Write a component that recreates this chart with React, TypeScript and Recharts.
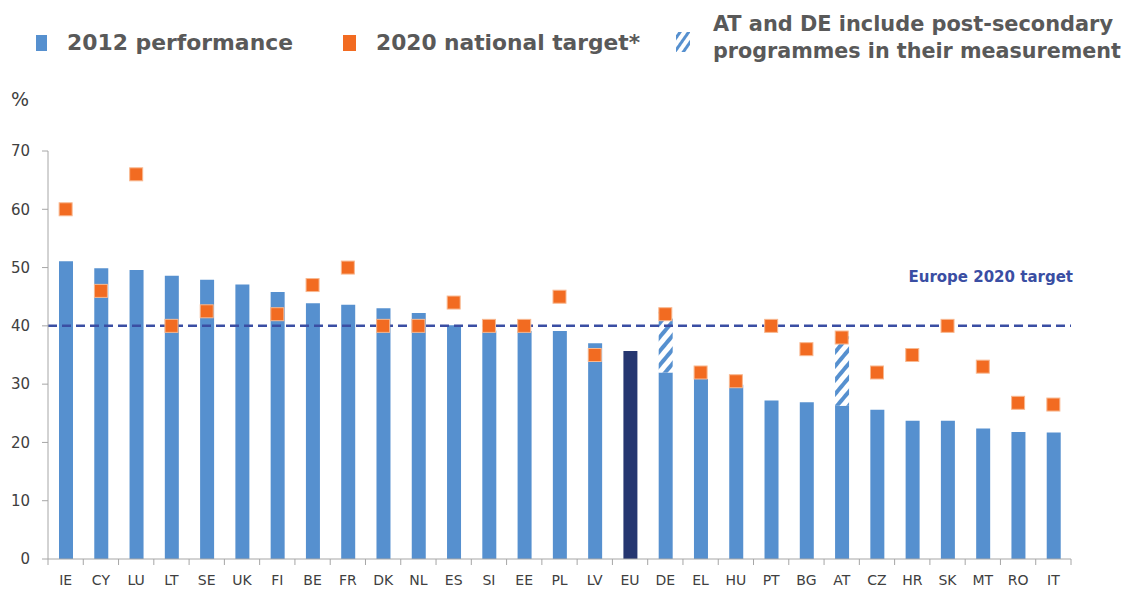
import { ComposedChart, Bar, Scatter, XAxis, YAxis, ReferenceLine, Cell } from 'recharts';

const countries = ['IE', 'CY', 'LU', 'LT', 'SE', 'UK', 'FI', 'BE', 'FR', 'DK', 'NL', 'ES', 'SI', 'EE', 'PL', 'LV', 'EU', 'DE', 'EL', 'HU', 'PT', 'BG', 'AT', 'CZ', 'HR', 'SK', 'MT', 'RO', 'IT'];
const performance2012 = [51.1, 49.9, 49.6, 48.6, 47.9, 47.1, 45.8, 43.9, 43.6, 43.0, 42.2, 40.1, 39.2, 39.1, 39.1, 37.0, 35.7, 32.0, 30.9, 29.9, 27.2, 26.9, 26.3, 25.6, 23.7, 23.7, 22.4, 21.8, 21.7];
// extra share from post-secondary programmes (DE, AT only)
const postSecondary = [0, 0, 0, 0, 0, 0, 0, 0, 0, 0, 0, 0, 0, 0, 0, 0, 0, 10.4, 0, 0, 0, 0, 11.9, 0, 0, 0, 0, 0, 0];
const nationalTarget = [60, 46, 66, 40, 42.5, null, 42, 47, 50, 40, 40, 44, 40, 40, 45, 35, null, 42, 32, 30.5, 40, 36, 38, 32, 35, 40, 33, 26.8, 26.5];
const yTicks = [0, 10, 20, 30, 40, 50, 60, 70];
const europeTarget = 40;

const data = countries.map((c, i) => ({
  country: c,
  perf: performance2012[i],
  post: postSecondary[i] || null,
  target: nationalTarget[i],
}));

const W = 1125;
const H = 592;
const margin = { top: 151, right: 54, bottom: 0, left: 0 };
const yAxisWidth = 48;
const xAxisHeight = 33;
const bandHalf = (W - margin.left - margin.right - yAxisWidth) / countries.length / 2;

const blue = '#5690CF';
const navy = '#253670';
const orange = '#F26B21';
const axisGrey = '#A6A6A6';
const lineBlue = '#3A4EA3';
const font = "'DejaVu Sans', Verdana, sans-serif";

const XTick = (props: any) => {
  const { x, y, payload } = props;
  return (
    <g>
      {payload.index === 0 && <line x1={x - bandHalf} x2={x - bandHalf} y1={y} y2={y + 6} stroke={axisGrey} />}
      <line x1={x + bandHalf} x2={x + bandHalf} y1={y} y2={y + 6} stroke={axisGrey} />
      <text x={x} y={y + 26} textAnchor="middle" fontSize={14} fill="#404040" fontFamily={font}>
        {payload.value}
      </text>
    </g>
  );
};

const TargetSquare = (props: any) => {
  const { cx, cy, payload } = props;
  if (payload == null || payload.target == null || cy == null || isNaN(cy)) return null;
  return <rect x={cx - 6.5} y={cy - 6.5} width={13} height={13} fill={orange} stroke="#F8B890" strokeWidth={1} />;
};

const TargetLabel = (props: any) => {
  const { viewBox } = props;
  return (
    <text x={viewBox.x + viewBox.width + 2} y={viewBox.y - 44} textAnchor="end" fontSize={15} fontWeight="bold" fill={lineBlue} fontFamily={font}>
      Europe 2020 target
    </text>
  );
};

function Legend() {
  const txt = { fontFamily: "'DejaVu Sans Condensed', 'DejaVu Sans', sans-serif", fontWeight: 'bold' as const, fill: '#595959', fontSize: 21 };
  return (
    <svg width={W} height={80} style={{ position: 'absolute', left: 0, top: 0 }}>
      <defs>
        <pattern id="hatchLegend" patternUnits="userSpaceOnUse" width="7" height="7" patternTransform="rotate(35)">
          <rect width="3" height="7" fill={blue} />
        </pattern>
      </defs>
      <rect x={36} y={35} width={11} height={16} fill={blue} />
      <text x={67} y={50} {...txt} textLength={226} lengthAdjust="spacingAndGlyphs">2012 performance</text>
      <rect x={343} y={35} width={13} height={16} fill={orange} />
      <text x={376} y={50} {...txt} textLength={264} lengthAdjust="spacingAndGlyphs">2020 national target*</text>
      <rect x={676} y={32} width={14} height={20} fill="url(#hatchLegend)" />
      <text x={713} y={31} {...txt} textLength={400} lengthAdjust="spacingAndGlyphs">AT and DE include post-secondary</text>
      <text x={713} y={58} {...txt} textLength={408} lengthAdjust="spacingAndGlyphs">programmes in their measurement</text>
    </svg>
  );
}

export default function App() {
  return (
    <div style={{ position: 'absolute', left: 0, top: 0, width: W, height: H, background: '#fff' }}>
      <Legend />
      <div style={{ position: 'absolute', left: 11, top: 88, fontSize: 19, color: '#404040', fontFamily: font }}>%</div>
      <ComposedChart width={W} height={H} data={data} margin={margin} barSize={14}>
        <defs>
          <pattern id="hatch" patternUnits="userSpaceOnUse" width="9" height="9" patternTransform="rotate(40)">
            <rect width="9" height="9" fill="#fff" />
            <rect width="4" height="9" fill={blue} />
          </pattern>
        </defs>
        <XAxis dataKey="country" height={xAxisHeight} stroke={axisGrey} tickLine={false} tickSize={0} tickMargin={0} tick={<XTick />} interval={0} />
        <YAxis
          width={yAxisWidth}
          domain={[0, 70]}
          ticks={yTicks}
          stroke={axisGrey}
          tickSize={6}
          tickMargin={12}
          tick={{ fontSize: 15, fill: '#404040', fontFamily: font }}
          interval={0}
        />
        <Bar dataKey="perf" stackId="a" fill={blue} isAnimationActive={false}>
          {data.map((d) => (
            <Cell key={d.country} fill={d.country === 'EU' ? navy : blue} />
          ))}
        </Bar>
        <Bar dataKey="post" stackId="a" fill="url(#hatch)" isAnimationActive={false} />
        <ReferenceLine y={europeTarget} stroke={lineBlue} strokeWidth={2.5} strokeDasharray="9 5" label={<TargetLabel />} />
        <Scatter dataKey="target" shape={<TargetSquare />} isAnimationActive={false} />
      </ComposedChart>
    </div>
  );
}
